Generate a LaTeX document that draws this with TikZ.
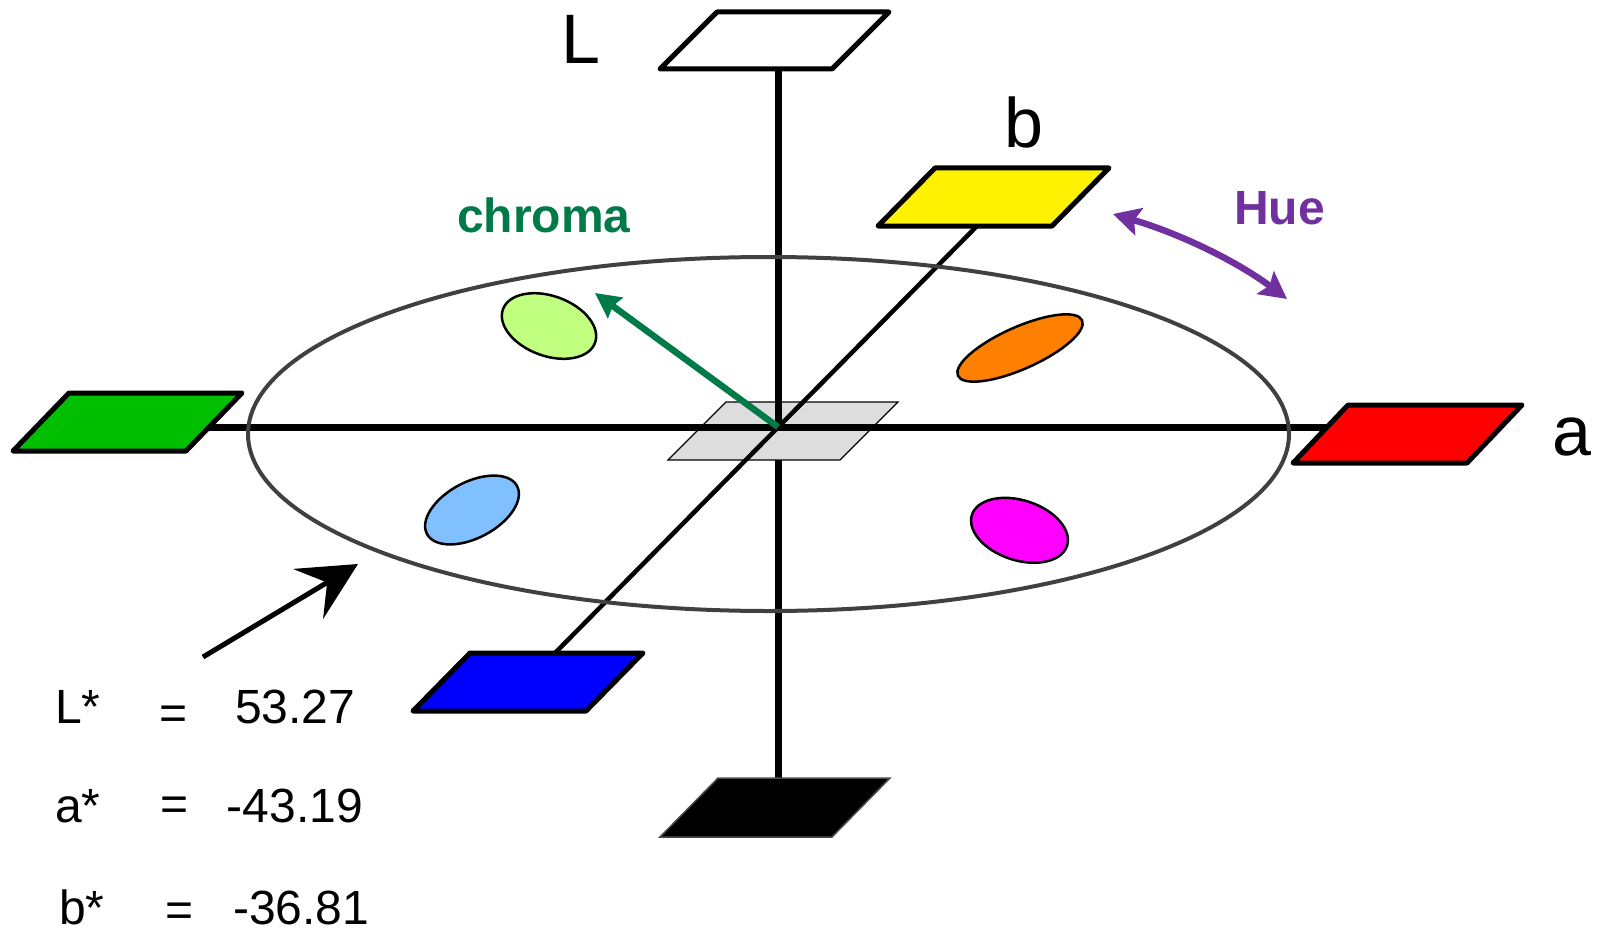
\documentclass[tikz,border=0pt]{standalone}
\usepackage{fontspec}
\setmainfont{Liberation Sans}
\usetikzlibrary{arrows.meta}

\definecolor{chromagreen}{RGB}{0,122,72}
\definecolor{huepurple}{RGB}{112,48,160}
\definecolor{ringgray}{RGB}{64,64,64}
\definecolor{plategray}{RGB}{221,221,221}
\definecolor{plategreen}{RGB}{0,191,0}
\definecolor{lightgreen}{RGB}{192,255,128}
\definecolor{lightblue}{RGB}{128,192,255}
\definecolor{orangefill}{RGB}{255,128,0}
\definecolor{magentafill}{RGB}{255,0,255}

\begin{document}
\begin{tikzpicture}[x=1pt,y=-1pt,
  axis/.style={line width=7pt},
  baxis/.style={line width=4.5pt},
  plate/.style={draw=black,line width=5pt,line join=round},
  blob/.style={draw=black,line width=2.5pt},
  ring/.style={draw=ringgray,line width=4pt},
  axislabel/.style={font=\fontsize{70}{70}\selectfont,inner sep=0pt,anchor=base},
  boldlabel/.style={font=\fontsize{48}{48}\selectfont\bfseries,inner sep=0pt,anchor=base west},
  val/.style={font=\fontsize{48}{48}\selectfont,inner sep=0pt,anchor=base west},
  eq/.style={font=\fontsize{48}{48}\selectfont,inner sep=0pt,anchor=center}]
\useasboundingbox (0,0) rectangle (1602,936);

% anchor points of the axes
\coordinate (O) at (778,427);
\coordinate (Ltop) at (778,69);
\coordinate (Lbot) at (778,778);
\coordinate (aneg) at (209,427);
\coordinate (apos) at (1326,427);
\coordinate (bpos) at (977,226);
\coordinate (bneg) at (555,653);

% lower half of the L axis sits under the neutral plate
\draw[axis] (O) -- (Lbot);
\fill[plategray,draw=black,line width=1.2pt] (668,460) -- ++(172,0) -- ++(58,-58) -- ++(-172,0) -- cycle;
\draw[axis] (O) -- (Ltop);
\draw[axis] (aneg) -- (apos);
\draw[baxis] (bneg) -- (bpos);

% hue circle
\draw[ring] (768.5,434) ellipse [x radius=520.5, y radius=177];

% sample colours
\draw[blob,fill=lightgreen] [rotate around={-20:(549,326)}] (549,326) ellipse [x radius=49, y radius=30];
\draw[blob,fill=orangefill] [rotate around={24:(1020,348)}] (1020,348) ellipse [x radius=68, y radius=21];
\draw[blob,fill=lightblue] [rotate around={28:(472,510)}] (472,510) ellipse [x radius=51, y radius=28];
\draw[blob,fill=magentafill] [rotate around={-18:(1019.5,530.3)}] (1019.5,530.3) ellipse [x radius=50, y radius=30];

% end plates of the axes
\draw[plate,fill=white] (660,69) -- ++(172,0) -- ++(57,-57) -- ++(-172,0) -- cycle;
\fill[black,draw=black!70,line width=1.5pt] (660,837) -- ++(172,0) -- ++(58,-59) -- ++(-172,0) -- cycle;
\draw[plate,fill=yellow] (878,226) -- ++(174,0) -- ++(57,-58) -- ++(-174,0) -- cycle;
\draw[plate,fill=blue] (413,711) -- ++(173,0) -- ++(57,-58) -- ++(-173,0) -- cycle;
\draw[plate,fill=plategreen] (13,451) -- ++(173,0) -- ++(56,-58) -- ++(-173,0) -- cycle;
\draw[plate,fill=red] (1293,463) -- ++(174,0) -- ++(55,-58) -- ++(-174,0) -- cycle;

% chroma arrow
\coordinate (chromatip) at (595,293);
\draw[chromagreen,line width=6.5pt,-{Stealth[length=25pt,width=25pt,inset=3pt]}] (O) -- (chromatip);

% hue arrow
\coordinate (hueA) at (1113,214);
\coordinate (hueB) at (1287,299);
\draw[huepurple,line width=6.5pt,{Stealth[length=27pt,width=28pt,inset=5pt]}-{Stealth[length=27pt,width=28pt,inset=5pt]}]
  (hueA) .. controls (1181,234) and (1238,262) .. (hueB);

% pointer to the sample
\coordinate (ptail) at (203,657);
\coordinate (ptip) at (358,564);
\draw[black,line width=5pt,-{Stealth[length=58pt,width=58pt,inset=22pt]}] (ptail) -- (ptip);

% axis labels
\node[axislabel] (labL) at (581,64) {L};
\node[axislabel] (labb) at (1024,148) {b};
\node[axislabel] (laba) at (1572,455) {a};
\node[boldlabel,text=chromagreen] (labchroma) at (457,232) {chroma};
\node[boldlabel,text=huepurple] (labhue) at (1234,224) {Hue};

% measured values
\node[val] (vL) at (55,723) {L*};
\node[eq] (eqL) at (174,717.5) {=};
\node[val] (nL) at (235,723) {53.27};
\node[val] (va) at (55,822) {a*};
\node[eq] (eqa) at (175,809) {=};
\node[val] (na) at (226.5,822) {-43.19};
\node[val] (vb) at (59,924) {b*};
\node[eq] (eqb) at (180,915) {=};
\node[val] (nb) at (233,924) {-36.81};
\end{tikzpicture}
\end{document}
